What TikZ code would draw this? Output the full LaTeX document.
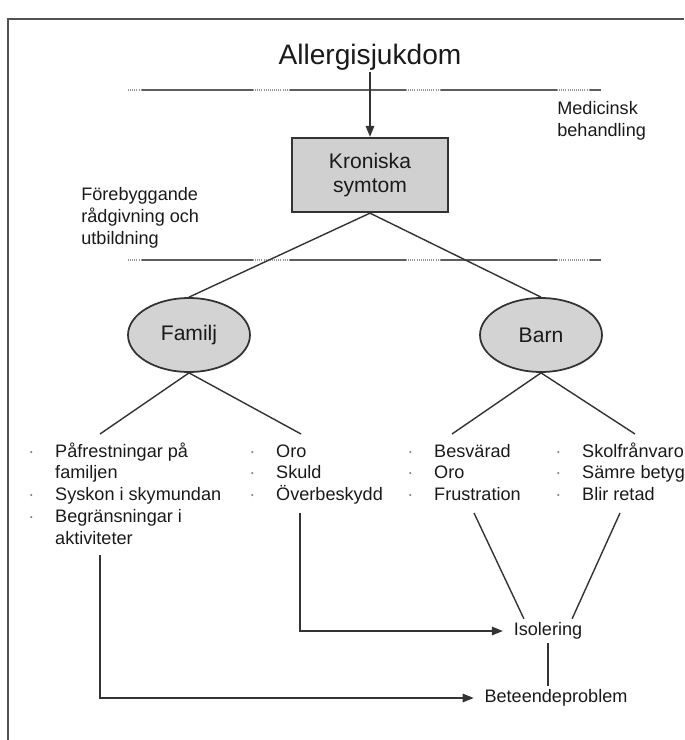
\documentclass[tikz,border=0pt]{standalone}
\usepackage{fontspec}
\setmainfont{Liberation Sans}
\usetikzlibrary{arrows.meta,positioning,shapes.geometric}
\definecolor{linec}{HTML}{333333}
\definecolor{boxc}{HTML}{D0D0D0}
\definecolor{ovalc}{HTML}{D3D3D3}
\definecolor{guidec}{HTML}{5E5E5E}
\definecolor{textc}{HTML}{1A1A1A}
\definecolor{dotc}{HTML}{808080}
\newcommand\pkt{\textcolor{dotc}{·}}

\begin{document}
\begin{tikzpicture}[
    x=0.02cm, y=-0.02cm,
    font=\fontsize{10.3}{12.5}\selectfont, text=textc,
    symbox/.style={
      draw=linec, line width=1.3pt, fill=boxc, align=center,
      minimum width=3.12cm, minimum height=1.48cm, inner sep=2pt,
      font=\fontsize{12}{13.7}\selectfont},
    oval/.style={
      ellipse, draw=linec, line width=1pt, fill=ovalc,
      minimum width=2.44cm, minimum height=1.48cm, inner sep=0pt,
      font=\fontsize{12}{14}\selectfont},
    lst/.style={anchor=base west, inner sep=0pt},
    note/.style={anchor=north west, inner sep=0pt, align=left},
    lbl/.style={inner xsep=6pt, inner ysep=2pt},
    conn/.style={draw=linec, line width=0.8pt},
    flow/.style={conn, -{Triangle[length=2.2mm, width=1.7mm]}},
    frame/.style={draw=linec!85, line width=1.1pt},
    guide/.style={guidec, line width=1.6pt},
    guidedot/.style={guidec!65, line width=1.6pt, dash pattern=on 0.6pt off 0.6pt}
  ]
  \useasboundingbox (0,0) rectangle (684,740);

  % --- frame
  \draw[frame] (8,740) -- (8,19) -- (684,19);

  % --- guide lines
  \foreach \y in {90,260} {
    \foreach \a/\b in {142/253,290/406,440/557,589/601}
      \draw[guide] (\a,\y) -- (\b,\y);
    \foreach \a/\b in {128/142,253/290,406/440,557/589}
      \draw[guidedot] (\a,\y) -- (\b,\y);
  }

  % --- top
  \node[font=\fontsize{16}{18}\selectfont, inner sep=1pt] (allergi) at (370,57) {Allergisjukdom};
  \node[symbox] (kron) at (370,175) {Kroniska\\symtom};
  \node[note] (medic) at (557,101) {Medicinsk\\behandling};
  \node[note] (foreb) at (81,187) {Förebyggande\\rådgivning och\\utbildning};

  % --- family / child
  \node[oval] (fam) at (189,335) {Familj};
  \node[oval] (barn) at (541,335) {Barn};

  % --- lists
  \node[lst] (l1) at (28,457) {\begin{tabular}[t]{@{}p{15.3pt}@{}l@{}}
    \pkt & Påfrestningar på\\ & familjen\\ \pkt & Syskon i skymundan\\
    \pkt & Begränsningar i\\ & aktiviteter\end{tabular}};
  \node[lst] (l2) at (249,457) {\begin{tabular}[t]{@{}p{15.3pt}@{}l@{}}
    \pkt & Oro\\ \pkt & Skuld\\ \pkt & Överbeskydd\end{tabular}};
  \node[lst] (l3) at (407,457) {\begin{tabular}[t]{@{}p{15.3pt}@{}l@{}}
    \pkt & Besvärad\\ \pkt & Oro\\ \pkt & Frustration\end{tabular}};
  \node[lst] (l4) at (555,457) {\begin{tabular}[t]{@{}p{15.3pt}@{}l@{}}
    \pkt & Skolfrånvaro\\ \pkt & Sämre betyg\\ \pkt & Blir retad\end{tabular}};

  % --- outcomes
  \node[lbl] (iso) at (548,631) {Isolering};
  \node[lbl] (beh) at (556,698) {Beteendeproblem};

  \coordinate (t1) at (100,434);
  \coordinate (t2) at (301,434);
  \coordinate (t3) at (452,434);
  \coordinate (t4) at (635,434);
  \coordinate (k1) at (100,555);
  \coordinate (k2) at (300,513);
  \coordinate (k3) at (474,513);
  \coordinate (k4) at (620,513);

  % --- connectors
  \draw[flow] (allergi) -- (kron);
  \draw[conn] (kron.south) -- (fam.north);
  \draw[conn] (kron.south) -- (barn.north);
  \draw[conn] (fam.south) -- (t1);
  \draw[conn] (fam.south) -- (t2);
  \draw[conn] (barn.south) -- (t3);
  \draw[conn] (barn.south) -- (t4);
  \draw[conn] (k3) -- (iso.153);
  \draw[conn] (k4) -- (iso.27);
  \draw[flow] (k2) |- (iso);
  \draw[conn] (iso.south) -- (iso.south |- beh.north);
  \draw[flow] (k1) |- (beh);

\end{tikzpicture}
\end{document}
